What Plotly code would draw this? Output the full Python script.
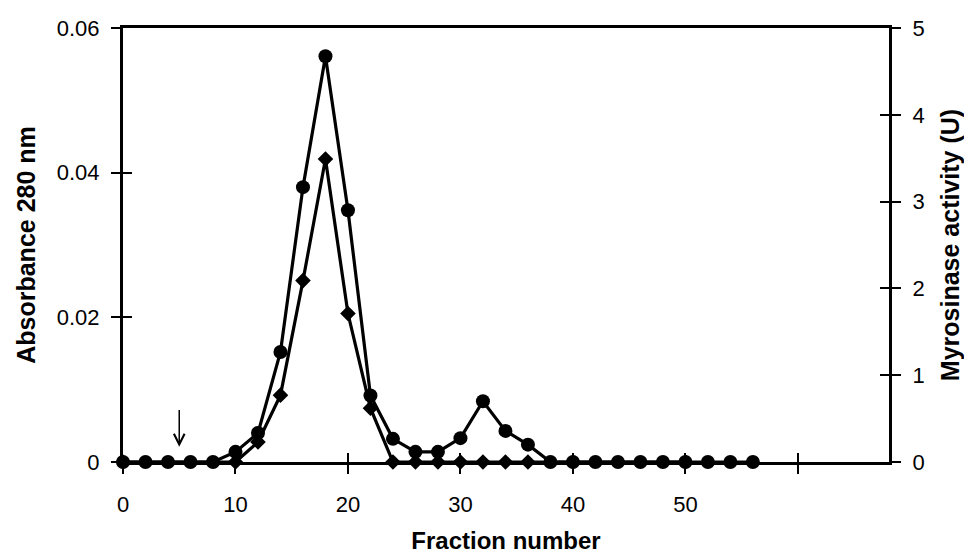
import plotly.graph_objects as go

# Elution profile: absorbance at 280 nm (circles, left axis)
fractions_abs = [0, 2, 4, 6, 8, 10, 12, 14, 16, 18, 20, 22, 24, 26, 28, 30,
                 32, 34, 36, 38, 40, 42, 44, 46, 48, 50, 52, 54, 56]
absorbance = [0, 0, 0, 0, 0, 0.0014, 0.0040, 0.0152, 0.0380, 0.0561, 0.0348,
              0.0092, 0.0032, 0.0014, 0.0014, 0.0033, 0.0084, 0.0043, 0.0024,
              0, 0, 0, 0, 0, 0, 0, 0, 0, 0]

# Myrosinase activity (diamonds, right axis)
fractions_act = [0, 10, 12, 14, 16, 18, 20, 22, 24, 26, 28, 30, 32, 34, 36, 40, 50]
activity = [0, 0, 0.23, 0.77, 2.09, 3.49, 1.71, 0.62, 0, 0, 0, 0, 0, 0, 0, 0, 0]

x_ticks = [0, 10, 20, 30, 40, 50, 60]
x_tick_text = ["0", "10", "20", "30", "40", "50", ""]
abs_ticks = [0, 0.02, 0.04, 0.06]
abs_tick_text = ["0", "0.02", "0.04", "0.06"]
act_ticks = [0, 1, 2, 3, 4, 5]

x_range = [0, 68.1]
abs_range = [0, 0.06]
act_range = [0, 5]

FONT = "Liberation Sans, Arial, sans-serif"
INK = "#000000"

fig = go.Figure()

fig.add_trace(go.Scatter(
    x=fractions_abs, y=absorbance, mode="lines+markers",
    line=dict(color=INK, width=3.2),
    marker=dict(symbol="circle", size=14, color=INK),
    cliponaxis=False, yaxis="y", showlegend=False,
))

fig.add_trace(go.Scatter(
    x=fractions_act, y=activity, mode="lines+markers",
    line=dict(color=INK, width=3.2),
    marker=dict(symbol="diamond", size=12, color=INK),
    cliponaxis=False, yaxis="y2", showlegend=False,
))

# empty traces so the overlay axes carrying the inward tick halves get drawn
fig.add_trace(go.Scatter(x=[], y=[], xaxis="x2", yaxis="y3",
                         hoverinfo="skip", showlegend=False))
fig.add_trace(go.Scatter(x=[], y=[], xaxis="x2", yaxis="y4",
                         hoverinfo="skip", showlegend=False))

tick_font = dict(family=FONT, size=22, color=INK)
title_font = dict(family=FONT, size=25, color=INK, weight="bold")
inner_tick = dict(ticks="inside", ticklen=9, tickwidth=2, tickcolor=INK,
                  showticklabels=False, showline=False, showgrid=False,
                  zeroline=False, automargin=False)

fig.update_layout(
    width=964, height=554,
    margin=dict(l=123, r=75, t=28, b=92, autoexpand=False),
    paper_bgcolor="white", plot_bgcolor="white",
    showlegend=False,
    xaxis=dict(
        range=x_range, tickvals=x_ticks, ticktext=x_tick_text,
        ticks="outside", ticklen=9, tickwidth=2, tickcolor=INK,
        showline=True, linewidth=3, linecolor=INK, mirror=True,
        showgrid=False, zeroline=False, tickfont=tick_font,
        ticklabelstandoff=12, automargin=False,
        title=dict(text="Fraction number",
                   font=dict(family=FONT, size=24, color=INK, weight="bold"),
                   standoff=22),
    ),
    xaxis2=dict(range=x_range, overlaying="x", anchor="y", side="bottom",
                tickvals=x_ticks[1:], **inner_tick),
    yaxis=dict(
        range=abs_range, tickvals=abs_ticks, ticktext=abs_tick_text,
        ticks="outside", ticklen=9, tickwidth=2, tickcolor=INK,
        showline=True, linewidth=3, linecolor=INK,
        showgrid=False, zeroline=False, tickfont=tick_font,
        ticklabelstandoff=7, automargin=False,
        title=dict(text="Absorbance 280 nm", font=title_font, standoff=15),
    ),
    yaxis2=dict(
        range=act_range, overlaying="y", side="right", anchor="x",
        tickvals=act_ticks, ticks="outside", ticklen=9, tickwidth=2, tickcolor=INK,
        showline=True, linewidth=3, linecolor=INK,
        showgrid=False, zeroline=False, tickfont=tick_font,
        ticklabelstandoff=7, automargin=False,
        title=dict(text="Myrosinase activity (U)", font=title_font, standoff=19),
    ),
    yaxis3=dict(range=abs_range, overlaying="y", side="left", anchor="x2",
                tickvals=abs_ticks[1:-1], **inner_tick),
    yaxis4=dict(range=act_range, overlaying="y", side="right", anchor="x2",
                tickvals=act_ticks[1:-1], **inner_tick),
)

# sample application marker
fig.add_annotation(
    x=5, y=0.0021, ax=5, ay=0.0074, xref="x", yref="y", axref="x", ayref="y",
    text="", showarrow=True, arrowhead=5, arrowsize=1.4, arrowwidth=1.5,
    arrowcolor=INK,
)

fig.write_html("out.html")
